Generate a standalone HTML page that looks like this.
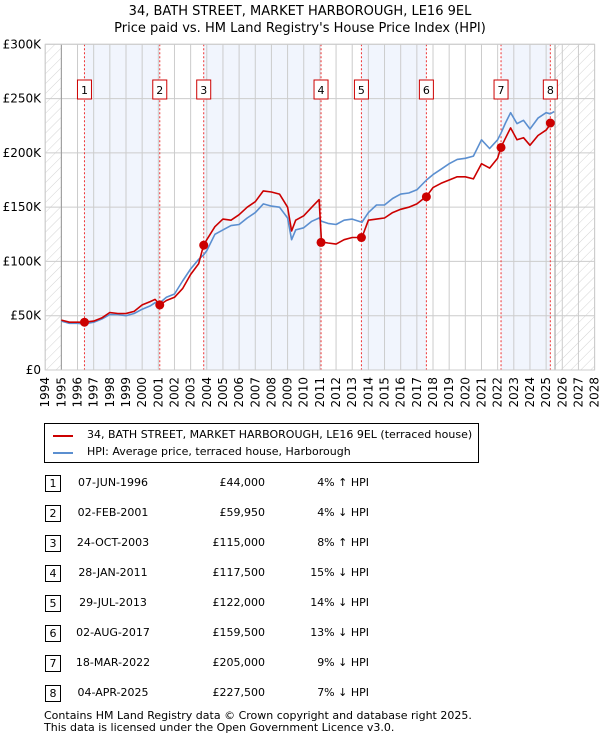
<!DOCTYPE html>
<html><head><meta charset="utf-8"><style>
body{margin:0;width:600px;height:740px;background:#fff;font-family:"DejaVu Sans","Liberation Sans",sans-serif;overflow:hidden;position:relative}
.t{position:absolute;font-size:11px;color:#000;white-space:nowrap}
.nb{position:absolute;left:45px;width:14px;height:15px;border:1px solid #000;font-size:11px;text-align:center;line-height:15px}
</style></head><body>
<div class="t" style="left:0;width:600px;text-align:center;top:3px;font-size:13px;line-height:17px">34, BATH STREET, MARKET HARBOROUGH, LE16 9EL<br>Price paid vs. HM Land Registry's House Price Index (HPI)</div>
<svg id="chart" width="600" height="420" style="position:absolute;left:0;top:0" font-family="DejaVu Sans, Liberation Sans, sans-serif" font-size="12"></svg>
<div style="position:absolute;left:44px;top:423px;width:433px;height:38px;border:1px solid #000">
 <div style="position:absolute;left:8px;top:4px;width:405px"><span style="position:absolute;left:0;top:7px;width:20px;border-top:2px solid #c00"></span><span class="t" style="left:34px;top:0">34, BATH STREET, MARKET HARBOROUGH, LE16 9EL (terraced house)</span></div>
 <div style="position:absolute;left:8px;top:21px;width:405px"><span style="position:absolute;left:0;top:7px;width:20px;border-top:2px solid #5b8fd0"></span><span class="t" style="left:34px;top:0">HPI: Average price, terraced house, Harborough</span></div>
</div>
<div id="tbl"></div>
<div class="t" style="left:44px;top:710px;line-height:12px">Contains HM Land Registry data © Crown copyright and database right 2025.<br>This data is licensed under the Open Government Licence v3.0.</div>
<script>
const years=[1995,1995.5,1996,1996.4,1997,1997.5,1998,1998.5,1999,1999.5,2000,2000.5,2000.8,2001.1,2001.5,2002,2002.5,2003,2003.5,2003.8,2004,2004.5,2005,2005.5,2006,2006.5,2007,2007.5,2008,2008.5,2009,2009.25,2009.5,2010,2010.5,2010.95,2011.1,2011.5,2012,2012.5,2013,2013.6,2014,2014.5,2015,2015.5,2016,2016.5,2017,2017.6,2018,2018.5,2019,2019.5,2020,2020.5,2021,2021.5,2022,2022.2,2022.5,2022.8,2023.2,2023.6,2024,2024.5,2025,2025.25,2025.5];
const hpi=[45,43,43,42.5,44,47,51,51,50,52,56,59,62,62,67,70,82,93,102,106,110,125,129,133,134,140,145,153,151,150,140,120,129,131,137,140,137,135,134,138,139,136,145,152,152,158,162,163,166,175,180,185,190,194,195,197,212,204,212,218,228,237,227,230,222,232,237,236,238];
const price=[46,44,44,44,45,48,53,52,52,54,60,63,65,60,64,67,75,88,98,115,120,132,139,138,143,150,155,165,164,162,150,128,138,142,150,157,118,117,116,120,122,122,138,139,140,145,148,150,153,160,168,172,175,178,178,176,190,186,195,205,214,223,212,214,207,216,221,226,228];
const saleLabels=["1","2","3","4","5","6","7","8"];
const saleYears=[1996.43,2001.09,2003.81,2011.07,2013.57,2017.59,2022.21,2025.26];
const salePrices=[44,59.95,115,117.5,122,159.5,205,227.5];
const saleDates=["07-JUN-1996","02-FEB-2001","24-OCT-2003","28-JAN-2011","29-JUL-2013","02-AUG-2017","18-MAR-2022","04-APR-2025"];
const saleText=["£44,000","£59,950","£115,000","£117,500","£122,000","£159,500","£205,000","£227,500"];
const salePct=["4% ↑ HPI","4% ↓ HPI","8% ↑ HPI","15% ↓ HPI","14% ↓ HPI","13% ↓ HPI","9% ↓ HPI","7% ↓ HPI"];
const yTicks=[0,50,100,150,200,250,300];
const yTickLabels=["£0","£50K","£100K","£150K","£200K","£250K","£300K"];
const L=45.2,R=594.6,T=44.3,B=370;
const X=y=>L+(y-1994)*(R-L)/34;
const Y=v=>B-v*(B-T)/300;
const NS="http://www.w3.org/2000/svg";
const svg=document.getElementById('chart');
function mk(tag,a,parent){const e=document.createElementNS(NS,tag);for(const k in a)e.setAttribute(k,a[k]);(parent||svg).appendChild(e);return e;}
const defs=mk('defs',{});
const pat=mk('pattern',{id:'hatch',width:7,height:7,patternUnits:'userSpaceOnUse',patternTransform:'rotate(45)'},defs);
mk('line',{x1:0,y1:0,x2:0,y2:7,stroke:'#d4d4d4','stroke-width':1},pat);
const bandEdges=[1995].concat(saleYears).concat([2025.5]);
for(let i=0;i<bandEdges.length-1;i++){
  if(i%2===1){const r=mk('rect',{x:X(bandEdges[i]),y:T,width:X(bandEdges[i+1])-X(bandEdges[i]),height:B-T,fill:'#f1f5fd'});
  
  }
}
const h1=mk('rect',{x:L,y:T,width:X(1995)-L,height:B-T,fill:'url(#hatch)'});


const h2=mk('rect',{x:X(2025.55),y:T,width:R-X(2025.55),height:B-T,fill:'url(#hatch)'});


for(let yr=1994;yr<=2028;yr++){
  const g=mk('line',{x1:X(yr),x2:X(yr),y1:T,y2:B,stroke:'#ccc','stroke-width':1});
  
  
  const t=mk('text',{x:0,y:0,transform:`translate(${X(yr)+4},${B+7}) rotate(-90)`,'text-anchor':'end','font-size':12});
  t.textContent=yr;
  
  
}
yTicks.forEach((v,i)=>{
  const g=mk('line',{x1:L,x2:R,y1:Y(v),y2:Y(v),stroke:'#ccc','stroke-width':1});
  
  
  const t=mk('text',{x:41,y:Y(v)+4,'text-anchor':'end','font-size':12});
  t.textContent=yTickLabels[i];
  
  
});
mk('line',{x1:X(1995),x2:X(1995),y1:T,y2:B,stroke:'#999'});
mk('line',{x1:X(2025.55),x2:X(2025.55),y1:T,y2:B,stroke:'#999'});
saleYears.forEach((yr,i)=>{
  const l=mk('line',{x1:X(yr),x2:X(yr),y1:T,y2:B,stroke:'#e33','stroke-width':1,'stroke-dasharray':'2,2'});
  
  
  const g=mk('g',{});
  
  
  mk('rect',{x:X(yr)-7,y:80,width:14,height:19,fill:'#fff',stroke:'#c00','stroke-width':1},g);
  const t=mk('text',{x:X(yr),y:94,'text-anchor':'middle','font-size':11},g);t.textContent=saleLabels[i];
});
function path(vals,color,name){
  const d=years.map((y,i)=>(i?'L':'M')+X(y).toFixed(1)+','+Y(vals[i]).toFixed(1)).join('');
  const p=mk('path',{d:d,fill:'none',stroke:color,'stroke-width':1.6,'stroke-linejoin':'round'});
  
  
}
path(hpi,'#5b8fd0','hpi-line');
path(price,'#cc0000','price-line');
saleYears.forEach((yr,i)=>{
  const c=mk('circle',{cx:X(yr),cy:Y(salePrices[i]),r:4.5,fill:'#cc0000'});
  
  
});
mk('rect',{x:L,y:T,width:R-L,height:B-T,fill:'none',stroke:'#ccc'});
const tbl=document.getElementById('tbl');
saleLabels.forEach((lab,i)=>{
  const top=475+i*30;
  const row=document.createElement('div');
  
  
  row.innerHTML=`<div class="nb" style="top:${top}px">${lab}</div><div class="t" style="left:60px;width:106px;text-align:center;top:${top+1}px">${saleDates[i]}</div><div class="t" style="left:160px;width:105px;text-align:right;top:${top+1}px">${saleText[i]}</div><div class="t" style="left:270px;width:99px;text-align:right;top:${top+1}px">${salePct[i]}</div>`;
  tbl.appendChild(row);
});
</script>
</body></html>
